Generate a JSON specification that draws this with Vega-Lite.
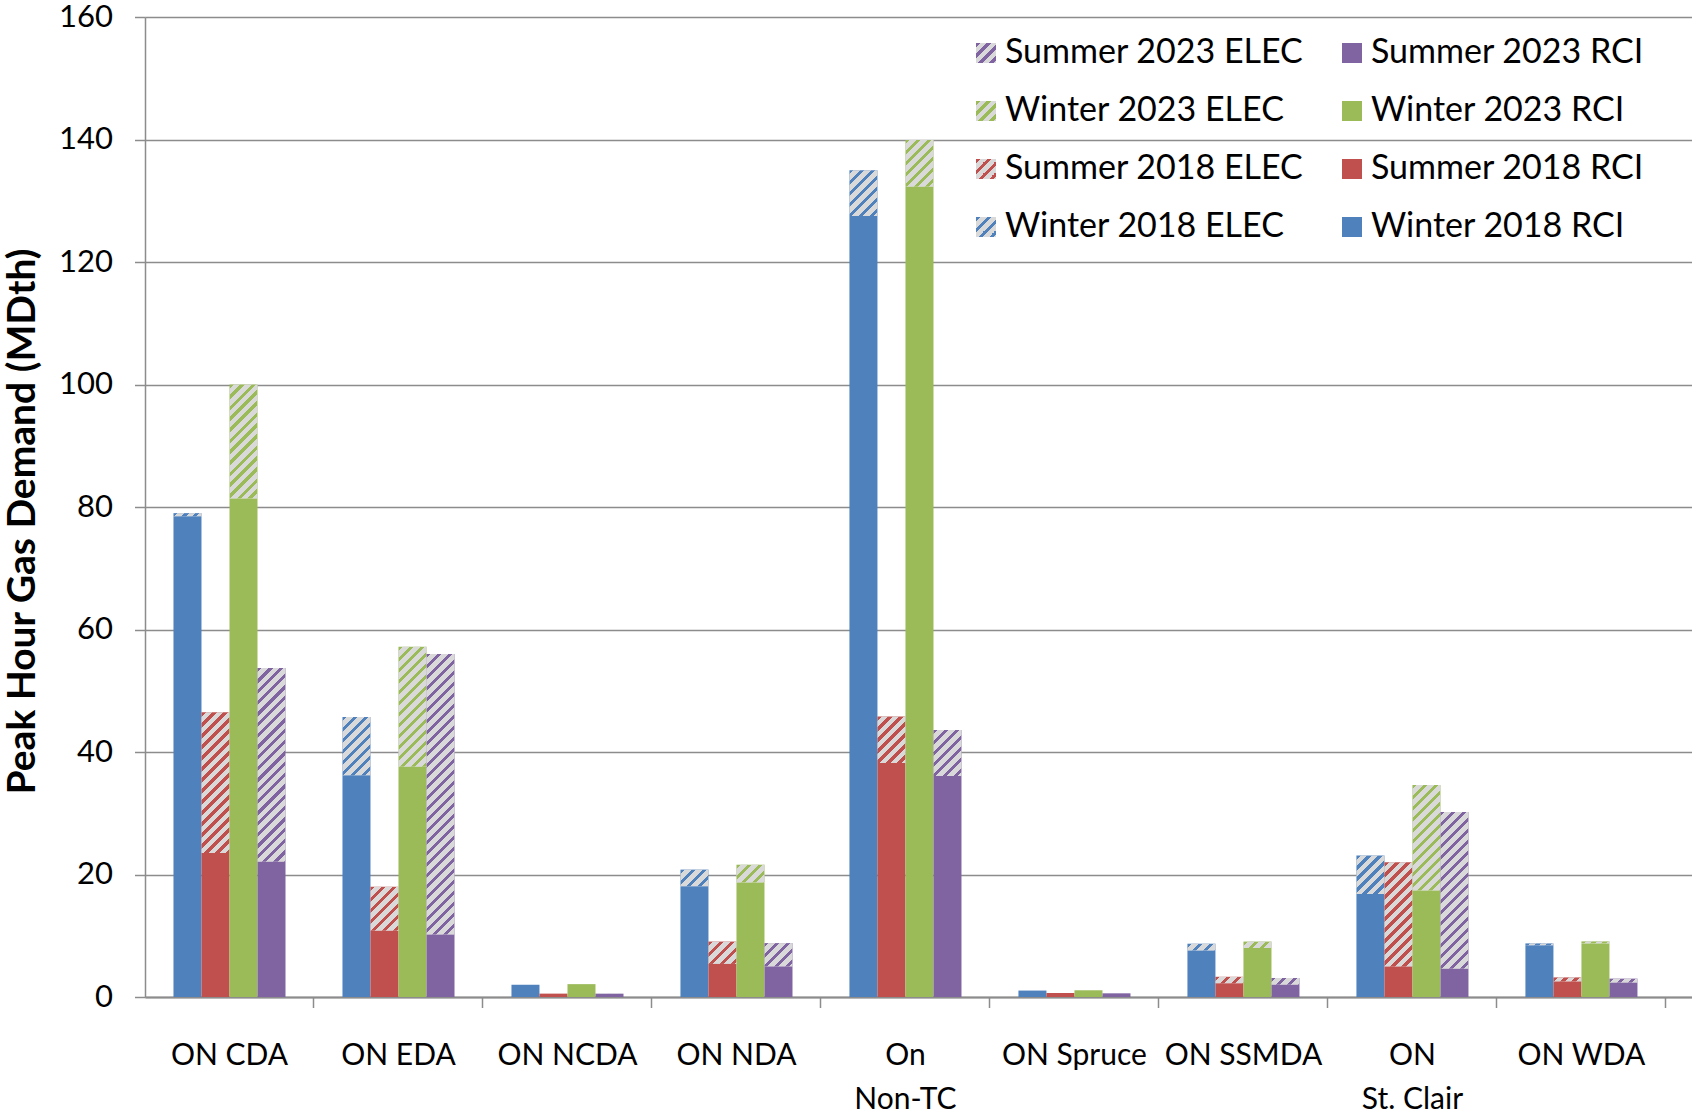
{
  "$schema": "https://vega.github.io/schema/vega-lite/v6.json",
  "width": 1547,
  "height": 980,
  "autosize": {"type": "none"},
  "padding": {"left": 145, "top": 17, "right": 0, "bottom": 115},
  "background": "white",
  "config": {
    "font": "Lato",
    "view": {"stroke": null},
    "axis": {
      "domainColor": "#8c8c8c", "domainWidth": 1.5,
      "tickColor": "#8c8c8c", "tickWidth": 1.5, "tickSize": 10.5,
      "gridColor": "#8c8c8c", "gridWidth": 1.5,
      "labelColor": "#000000", "titleColor": "#000000",
      "labelFont": "Lato", "titleFont": "Lato"
    },
    "legend": {
      "orient": "none", "legendX": 824, "legendY": 19, "columns": 2,
      "symbolType": "square", "symbolSize": 400, "symbolStrokeWidth": 0,
      "labelFontSize": 34, "labelFont": "Lato", "labelOffset": 2,
      "rowPadding": 24, "columnPadding": 31, "labelLimit": 600, "padding": 0
    }
  },
  "params": [
    {"name": "legendStops", "value": [
      {"offset":0,"color":"rgba(217,217,217,0)"},{"offset":0.1,"color":"rgba(217,217,217,0)"},{"offset":0.1,"color":"#d9d9d9"},{"offset":0.25,"color":"#d9d9d9"},
      {"offset":0.25,"color":"rgba(217,217,217,0)"},{"offset":0.35,"color":"rgba(217,217,217,0)"},{"offset":0.35,"color":"#d9d9d9"},{"offset":0.5,"color":"#d9d9d9"},
      {"offset":0.5,"color":"rgba(217,217,217,0)"},{"offset":0.6,"color":"rgba(217,217,217,0)"},{"offset":0.6,"color":"#d9d9d9"},{"offset":0.75,"color":"#d9d9d9"},
      {"offset":0.75,"color":"rgba(217,217,217,0)"},{"offset":0.85,"color":"rgba(217,217,217,0)"},{"offset":0.85,"color":"#d9d9d9"},{"offset":1,"color":"#d9d9d9"}
    ]},
    {"name": "hatchStops", "value": [
      {"offset":0,"color":"rgba(217,217,217,0)"},{"offset":0.0133,"color":"rgba(217,217,217,0)"},{"offset":0.0133,"color":"#d9d9d9"},{"offset":0.0333,"color":"#d9d9d9"},
      {"offset":0.0333,"color":"rgba(217,217,217,0)"},{"offset":0.0467,"color":"rgba(217,217,217,0)"},{"offset":0.0467,"color":"#d9d9d9"},{"offset":0.0667,"color":"#d9d9d9"},
      {"offset":0.0667,"color":"rgba(217,217,217,0)"},{"offset":0.08,"color":"rgba(217,217,217,0)"},{"offset":0.08,"color":"#d9d9d9"},{"offset":0.1,"color":"#d9d9d9"},
      {"offset":0.1,"color":"rgba(217,217,217,0)"},{"offset":0.1133,"color":"rgba(217,217,217,0)"},{"offset":0.1133,"color":"#d9d9d9"},{"offset":0.1333,"color":"#d9d9d9"},
      {"offset":0.1333,"color":"rgba(217,217,217,0)"},{"offset":0.1467,"color":"rgba(217,217,217,0)"},{"offset":0.1467,"color":"#d9d9d9"},{"offset":0.1667,"color":"#d9d9d9"},
      {"offset":0.1667,"color":"rgba(217,217,217,0)"},{"offset":0.18,"color":"rgba(217,217,217,0)"},{"offset":0.18,"color":"#d9d9d9"},{"offset":0.2,"color":"#d9d9d9"},
      {"offset":0.2,"color":"rgba(217,217,217,0)"},{"offset":0.2133,"color":"rgba(217,217,217,0)"},{"offset":0.2133,"color":"#d9d9d9"},{"offset":0.2333,"color":"#d9d9d9"},
      {"offset":0.2333,"color":"rgba(217,217,217,0)"},{"offset":0.2467,"color":"rgba(217,217,217,0)"},{"offset":0.2467,"color":"#d9d9d9"},{"offset":0.2667,"color":"#d9d9d9"},
      {"offset":0.2667,"color":"rgba(217,217,217,0)"},{"offset":0.28,"color":"rgba(217,217,217,0)"},{"offset":0.28,"color":"#d9d9d9"},{"offset":0.3,"color":"#d9d9d9"},
      {"offset":0.3,"color":"rgba(217,217,217,0)"},{"offset":0.3133,"color":"rgba(217,217,217,0)"},{"offset":0.3133,"color":"#d9d9d9"},{"offset":0.3333,"color":"#d9d9d9"},
      {"offset":0.3333,"color":"rgba(217,217,217,0)"},{"offset":0.3467,"color":"rgba(217,217,217,0)"},{"offset":0.3467,"color":"#d9d9d9"},{"offset":0.3667,"color":"#d9d9d9"},
      {"offset":0.3667,"color":"rgba(217,217,217,0)"},{"offset":0.38,"color":"rgba(217,217,217,0)"},{"offset":0.38,"color":"#d9d9d9"},{"offset":0.4,"color":"#d9d9d9"},
      {"offset":0.4,"color":"rgba(217,217,217,0)"},{"offset":0.4133,"color":"rgba(217,217,217,0)"},{"offset":0.4133,"color":"#d9d9d9"},{"offset":0.4333,"color":"#d9d9d9"},
      {"offset":0.4333,"color":"rgba(217,217,217,0)"},{"offset":0.4467,"color":"rgba(217,217,217,0)"},{"offset":0.4467,"color":"#d9d9d9"},{"offset":0.4667,"color":"#d9d9d9"},
      {"offset":0.4667,"color":"rgba(217,217,217,0)"},{"offset":0.48,"color":"rgba(217,217,217,0)"},{"offset":0.48,"color":"#d9d9d9"},{"offset":0.5,"color":"#d9d9d9"},
      {"offset":0.5,"color":"rgba(217,217,217,0)"},{"offset":0.5133,"color":"rgba(217,217,217,0)"},{"offset":0.5133,"color":"#d9d9d9"},{"offset":0.5333,"color":"#d9d9d9"},
      {"offset":0.5333,"color":"rgba(217,217,217,0)"},{"offset":0.5467,"color":"rgba(217,217,217,0)"},{"offset":0.5467,"color":"#d9d9d9"},{"offset":0.5667,"color":"#d9d9d9"},
      {"offset":0.5667,"color":"rgba(217,217,217,0)"},{"offset":0.58,"color":"rgba(217,217,217,0)"},{"offset":0.58,"color":"#d9d9d9"},{"offset":0.6,"color":"#d9d9d9"},
      {"offset":0.6,"color":"rgba(217,217,217,0)"},{"offset":0.6133,"color":"rgba(217,217,217,0)"},{"offset":0.6133,"color":"#d9d9d9"},{"offset":0.6333,"color":"#d9d9d9"},
      {"offset":0.6333,"color":"rgba(217,217,217,0)"},{"offset":0.6467,"color":"rgba(217,217,217,0)"},{"offset":0.6467,"color":"#d9d9d9"},{"offset":0.6667,"color":"#d9d9d9"},
      {"offset":0.6667,"color":"rgba(217,217,217,0)"},{"offset":0.68,"color":"rgba(217,217,217,0)"},{"offset":0.68,"color":"#d9d9d9"},{"offset":0.7,"color":"#d9d9d9"},
      {"offset":0.7,"color":"rgba(217,217,217,0)"},{"offset":0.7133,"color":"rgba(217,217,217,0)"},{"offset":0.7133,"color":"#d9d9d9"},{"offset":0.7333,"color":"#d9d9d9"},
      {"offset":0.7333,"color":"rgba(217,217,217,0)"},{"offset":0.7467,"color":"rgba(217,217,217,0)"},{"offset":0.7467,"color":"#d9d9d9"},{"offset":0.7667,"color":"#d9d9d9"},
      {"offset":0.7667,"color":"rgba(217,217,217,0)"},{"offset":0.78,"color":"rgba(217,217,217,0)"},{"offset":0.78,"color":"#d9d9d9"},{"offset":0.8,"color":"#d9d9d9"},
      {"offset":0.8,"color":"rgba(217,217,217,0)"},{"offset":0.8133,"color":"rgba(217,217,217,0)"},{"offset":0.8133,"color":"#d9d9d9"},{"offset":0.8333,"color":"#d9d9d9"},
      {"offset":0.8333,"color":"rgba(217,217,217,0)"},{"offset":0.8467,"color":"rgba(217,217,217,0)"},{"offset":0.8467,"color":"#d9d9d9"},{"offset":0.8667,"color":"#d9d9d9"},
      {"offset":0.8667,"color":"rgba(217,217,217,0)"},{"offset":0.88,"color":"rgba(217,217,217,0)"},{"offset":0.88,"color":"#d9d9d9"},{"offset":0.9,"color":"#d9d9d9"},
      {"offset":0.9,"color":"rgba(217,217,217,0)"},{"offset":0.9133,"color":"rgba(217,217,217,0)"},{"offset":0.9133,"color":"#d9d9d9"},{"offset":0.9333,"color":"#d9d9d9"},
      {"offset":0.9333,"color":"rgba(217,217,217,0)"},{"offset":0.9467,"color":"rgba(217,217,217,0)"},{"offset":0.9467,"color":"#d9d9d9"},{"offset":0.9667,"color":"#d9d9d9"},
      {"offset":0.9667,"color":"rgba(217,217,217,0)"},{"offset":0.98,"color":"rgba(217,217,217,0)"},{"offset":0.98,"color":"#d9d9d9"},{"offset":1,"color":"#d9d9d9"}
    ]}
  ],
  "data": {"values": [
    {"area":"ON CDA","season":"Winter 2018","part":"RCI","series":"Winter 2018 RCI","value":78.5},
    {"area":"ON CDA","season":"Winter 2018","part":"ELEC","series":"Winter 2018 ELEC","value":0.5},
    {"area":"ON CDA","season":"Summer 2018","part":"RCI","series":"Summer 2018 RCI","value":23.5},
    {"area":"ON CDA","season":"Summer 2018","part":"ELEC","series":"Summer 2018 ELEC","value":23.0},
    {"area":"ON CDA","season":"Winter 2023","part":"RCI","series":"Winter 2023 RCI","value":81.4},
    {"area":"ON CDA","season":"Winter 2023","part":"ELEC","series":"Winter 2023 ELEC","value":18.6},
    {"area":"ON CDA","season":"Summer 2023","part":"RCI","series":"Summer 2023 RCI","value":22.1},
    {"area":"ON CDA","season":"Summer 2023","part":"ELEC","series":"Summer 2023 ELEC","value":31.6},
    {"area":"ON EDA","season":"Winter 2018","part":"RCI","series":"Winter 2018 RCI","value":36.2},
    {"area":"ON EDA","season":"Winter 2018","part":"ELEC","series":"Winter 2018 ELEC","value":9.5},
    {"area":"ON EDA","season":"Summer 2018","part":"RCI","series":"Summer 2018 RCI","value":10.8},
    {"area":"ON EDA","season":"Summer 2018","part":"ELEC","series":"Summer 2018 ELEC","value":7.2},
    {"area":"ON EDA","season":"Winter 2023","part":"RCI","series":"Winter 2023 RCI","value":37.6},
    {"area":"ON EDA","season":"Winter 2023","part":"ELEC","series":"Winter 2023 ELEC","value":19.6},
    {"area":"ON EDA","season":"Summer 2023","part":"RCI","series":"Summer 2023 RCI","value":10.2},
    {"area":"ON EDA","season":"Summer 2023","part":"ELEC","series":"Summer 2023 ELEC","value":45.8},
    {"area":"ON NCDA","season":"Winter 2018","part":"RCI","series":"Winter 2018 RCI","value":2.0},
    {"area":"ON NCDA","season":"Winter 2018","part":"ELEC","series":"Winter 2018 ELEC","value":0},
    {"area":"ON NCDA","season":"Summer 2018","part":"RCI","series":"Summer 2018 RCI","value":0.55},
    {"area":"ON NCDA","season":"Summer 2018","part":"ELEC","series":"Summer 2018 ELEC","value":0},
    {"area":"ON NCDA","season":"Winter 2023","part":"RCI","series":"Winter 2023 RCI","value":2.1},
    {"area":"ON NCDA","season":"Winter 2023","part":"ELEC","series":"Winter 2023 ELEC","value":0},
    {"area":"ON NCDA","season":"Summer 2023","part":"RCI","series":"Summer 2023 RCI","value":0.5},
    {"area":"ON NCDA","season":"Summer 2023","part":"ELEC","series":"Summer 2023 ELEC","value":0.05},
    {"area":"ON NDA","season":"Winter 2018","part":"RCI","series":"Winter 2018 RCI","value":18.1},
    {"area":"ON NDA","season":"Winter 2018","part":"ELEC","series":"Winter 2018 ELEC","value":2.7},
    {"area":"ON NDA","season":"Summer 2018","part":"RCI","series":"Summer 2018 RCI","value":5.4},
    {"area":"ON NDA","season":"Summer 2018","part":"ELEC","series":"Summer 2018 ELEC","value":3.65},
    {"area":"ON NDA","season":"Winter 2023","part":"RCI","series":"Winter 2023 RCI","value":18.7},
    {"area":"ON NDA","season":"Winter 2023","part":"ELEC","series":"Winter 2023 ELEC","value":2.9},
    {"area":"ON NDA","season":"Summer 2023","part":"RCI","series":"Summer 2023 RCI","value":5.0},
    {"area":"ON NDA","season":"Summer 2023","part":"ELEC","series":"Summer 2023 ELEC","value":3.8},
    {"area":"On Non-TC","season":"Winter 2018","part":"RCI","series":"Winter 2018 RCI","value":127.5},
    {"area":"On Non-TC","season":"Winter 2018","part":"ELEC","series":"Winter 2018 ELEC","value":7.5},
    {"area":"On Non-TC","season":"Summer 2018","part":"RCI","series":"Summer 2018 RCI","value":38.2},
    {"area":"On Non-TC","season":"Summer 2018","part":"ELEC","series":"Summer 2018 ELEC","value":7.6},
    {"area":"On Non-TC","season":"Winter 2023","part":"RCI","series":"Winter 2023 RCI","value":132.3},
    {"area":"On Non-TC","season":"Winter 2023","part":"ELEC","series":"Winter 2023 ELEC","value":7.6},
    {"area":"On Non-TC","season":"Summer 2023","part":"RCI","series":"Summer 2023 RCI","value":36.1},
    {"area":"On Non-TC","season":"Summer 2023","part":"ELEC","series":"Summer 2023 ELEC","value":7.5},
    {"area":"ON Spruce","season":"Winter 2018","part":"RCI","series":"Winter 2018 RCI","value":1.05},
    {"area":"ON Spruce","season":"Winter 2018","part":"ELEC","series":"Winter 2018 ELEC","value":0},
    {"area":"ON Spruce","season":"Summer 2018","part":"RCI","series":"Summer 2018 RCI","value":0.65},
    {"area":"ON Spruce","season":"Summer 2018","part":"ELEC","series":"Summer 2018 ELEC","value":0},
    {"area":"ON Spruce","season":"Winter 2023","part":"RCI","series":"Winter 2023 RCI","value":1.1},
    {"area":"ON Spruce","season":"Winter 2023","part":"ELEC","series":"Winter 2023 ELEC","value":0},
    {"area":"ON Spruce","season":"Summer 2023","part":"RCI","series":"Summer 2023 RCI","value":0.6},
    {"area":"ON Spruce","season":"Summer 2023","part":"ELEC","series":"Summer 2023 ELEC","value":0},
    {"area":"ON SSMDA","season":"Winter 2018","part":"RCI","series":"Winter 2018 RCI","value":7.6},
    {"area":"ON SSMDA","season":"Winter 2018","part":"ELEC","series":"Winter 2018 ELEC","value":1.1},
    {"area":"ON SSMDA","season":"Summer 2018","part":"RCI","series":"Summer 2018 RCI","value":2.25},
    {"area":"ON SSMDA","season":"Summer 2018","part":"ELEC","series":"Summer 2018 ELEC","value":1.05},
    {"area":"ON SSMDA","season":"Winter 2023","part":"RCI","series":"Winter 2023 RCI","value":8.0},
    {"area":"ON SSMDA","season":"Winter 2023","part":"ELEC","series":"Winter 2023 ELEC","value":1.05},
    {"area":"ON SSMDA","season":"Summer 2023","part":"RCI","series":"Summer 2023 RCI","value":2.0},
    {"area":"ON SSMDA","season":"Summer 2023","part":"ELEC","series":"Summer 2023 ELEC","value":1.1},
    {"area":"ON St. Clair","season":"Winter 2018","part":"RCI","series":"Winter 2018 RCI","value":16.8},
    {"area":"ON St. Clair","season":"Winter 2018","part":"ELEC","series":"Winter 2018 ELEC","value":6.3},
    {"area":"ON St. Clair","season":"Summer 2018","part":"RCI","series":"Summer 2018 RCI","value":5.0},
    {"area":"ON St. Clair","season":"Summer 2018","part":"ELEC","series":"Summer 2018 ELEC","value":17.0},
    {"area":"ON St. Clair","season":"Winter 2023","part":"RCI","series":"Winter 2023 RCI","value":17.4},
    {"area":"ON St. Clair","season":"Winter 2023","part":"ELEC","series":"Winter 2023 ELEC","value":17.2},
    {"area":"ON St. Clair","season":"Summer 2023","part":"RCI","series":"Summer 2023 RCI","value":4.6},
    {"area":"ON St. Clair","season":"Summer 2023","part":"ELEC","series":"Summer 2023 ELEC","value":25.6},
    {"area":"ON WDA","season":"Winter 2018","part":"RCI","series":"Winter 2018 RCI","value":8.45},
    {"area":"ON WDA","season":"Winter 2018","part":"ELEC","series":"Winter 2018 ELEC","value":0.3},
    {"area":"ON WDA","season":"Summer 2018","part":"RCI","series":"Summer 2018 RCI","value":2.55},
    {"area":"ON WDA","season":"Summer 2018","part":"ELEC","series":"Summer 2018 ELEC","value":0.65},
    {"area":"ON WDA","season":"Winter 2023","part":"RCI","series":"Winter 2023 RCI","value":8.75},
    {"area":"ON WDA","season":"Winter 2023","part":"ELEC","series":"Winter 2023 ELEC","value":0.33},
    {"area":"ON WDA","season":"Summer 2023","part":"RCI","series":"Summer 2023 RCI","value":2.35},
    {"area":"ON WDA","season":"Summer 2023","part":"ELEC","series":"Summer 2023 ELEC","value":0.65}
  ]},
  "encoding": {
    "x": {
      "field": "area", "type": "nominal",
      "sort": ["ON CDA","ON EDA","ON NCDA","ON NDA","On Non-TC","ON Spruce","ON SSMDA","ON St. Clair","ON WDA"],
      "scale": {"paddingInner": 0.337, "paddingOuter": 0.2456, "align": 0.343},
      "axis": {
        "title": null, "labelAngle": 0, "labelFontSize": 30, "labelPadding": 33,
        "labelLimit": 400, "labelLineHeight": 44, "bandPosition": 1.252, "grid": false,
        "domainWidth": 2,
        "labelExpr": "datum.label === 'On Non-TC' ? ['On', 'Non-TC'] : datum.label === 'ON St. Clair' ? ['ON', 'St. Clair'] : datum.label"
      }
    },
    "xOffset": {
      "field": "season", "type": "nominal",
      "sort": ["Winter 2018","Summer 2018","Winter 2023","Summer 2023"],
      "scale": {"paddingInner": 0, "paddingOuter": 0}
    },
    "y": {
      "field": "value", "type": "quantitative", "stack": "zero",
      "scale": {"domain": [0, 160], "nice": false},
      "axis": {
        "title": "Peak Hour Gas Demand (MDth)",
        "values": [0, 20, 40, 60, 80, 100, 120, 140, 160],
        "grid": true, "labelFontSize": 31, "labelPadding": 22,
        "titleFontSize": 39, "titleFontWeight": "bold", "titleAngle": -90,
        "titleAlign": "center", "titleBaseline": "bottom",
        "titleX": -103, "titleY": 504, "titleLimit": 1000
      }
    },
    "order": {"field": "part", "sort": "descending"}
  },
  "layer": [
    {
      "mark": {"type": "bar"},
      "encoding": {
        "color": {
          "field": "series", "type": "nominal",
          "scale": {
            "domain": ["Summer 2023 ELEC","Winter 2023 ELEC","Summer 2018 ELEC","Winter 2018 ELEC","Summer 2023 RCI","Winter 2023 RCI","Summer 2018 RCI","Winter 2018 RCI"],
            "range": ["#8064A2","#9BBB59","#C0504D","#4F81BD","#8064A2","#9BBB59","#C0504D","#4F81BD"]
          },
          "legend": {"title": null, "labelColor": "#000000"}
        }
      }
    },
    {
      "mark": {
        "type": "bar",
        "fill": {"expr": "datum.part === 'ELEC' ? {gradient: 'linear', x1: 0, y1: 0, x2: 330 * bandwidth('xOffset') / (pow(bandwidth('xOffset'), 2) + pow(scale('y', datum.value_start) - scale('y', datum.value_end), 2) + 0.01), y2: 330 * abs(scale('y', datum.value_start) - scale('y', datum.value_end)) / (pow(bandwidth('xOffset'), 2) + pow(scale('y', datum.value_start) - scale('y', datum.value_end), 2) + 0.01), stops: hatchStops} : (datum.part === 'RCI' ? 'transparent' : (indexof(datum.value + '', 'ELEC') >= 0 ? {gradient: 'linear', x1: 0, y1: 0, x2: 1.1, y2: 1.1, stops: legendStops} : 'transparent'))"}
      },
      "encoding": {
        "detail": {"field": "part", "type": "nominal"},
        "opacity": {
          "field": "series", "type": "nominal",
          "scale": {
            "domain": ["Summer 2023 ELEC","Winter 2023 ELEC","Summer 2018 ELEC","Winter 2018 ELEC","Summer 2023 RCI","Winter 2023 RCI","Summer 2018 RCI","Winter 2018 RCI","zzz"],
            "range": [1, 1, 1, 1, 1, 1, 1, 1, 1]
          },
          "legend": {
            "title": null,
            "values": ["Summer 2023 ELEC","Winter 2023 ELEC","Summer 2018 ELEC","Winter 2018 ELEC","Summer 2023 RCI","Winter 2023 RCI","Summer 2018 RCI","Winter 2018 RCI"],
            "labelColor": "transparent"
          }
        }
      }
    }
  ]
}
